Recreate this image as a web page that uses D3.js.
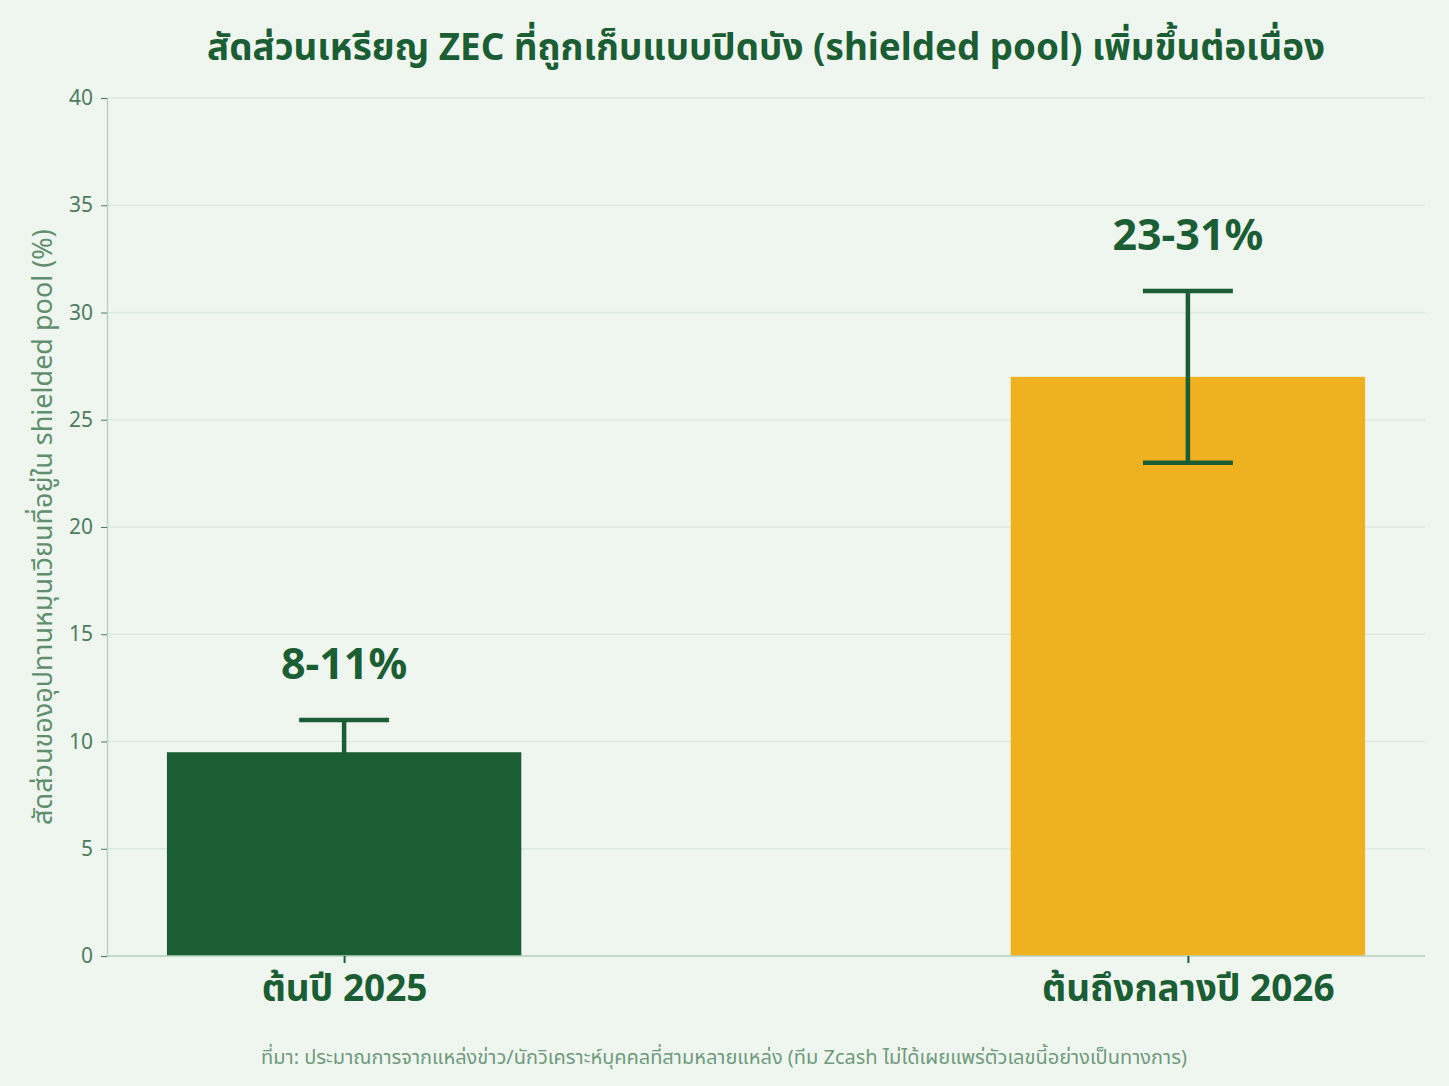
<!DOCTYPE html>
<html>
<head>
<meta charset="utf-8">
<script src="https://cdn.jsdelivr.net/npm/d3@7"></script>
<style>
  body { margin: 0; background: #eff6f0; }
  svg { display: block; font-family: "Noto Sans", "Noto Sans Thai", "Open Sans", sans-serif; }
</style>
</head>
<body>
<svg id="chart" width="1449" height="1086"></svg>
<script>
// data
var categories = ['ต้นปี 2025', 'ต้นถึงกลางปี 2026'];
var midValues = [9.5, 27];
var lowValues = [8, 23];
var highValues = [11, 31];
var rangeLabels = ['8-11%', '23-31%'];
var barColors = ['#1b5e34', '#f0b120'];
var yTicks = [0, 5, 10, 15, 20, 25, 30, 35, 40];

var titleText = 'สัดส่วนเหรียญ ZEC ที่ถูกเก็บแบบปิดบัง (shielded pool) เพิ่มขึ้นต่อเนื่อง';
var yLabelText = 'สัดส่วนของอุปทานหมุนเวียนที่อยู่ใน shielded pool (%)';
var sourceText = 'ที่มา: ประมาณการจากแหล่งข่าว/นักวิเคราะห์บุคคลที่สามหลายแหล่ง (ทีม Zcash ไม่ได้เผยแพร่ตัวเลขนี้อย่างเป็นทางการ)';

var W = 1449, H = 1086;
var margin = { top: 98, right: 24, bottom: 130, left: 107 };
var dark = '#1b5e34';

var svg = d3.select('#chart');
svg.append('rect').attr('width', W).attr('height', H).attr('fill', '#eff6f0');

var x = d3.scalePoint()
  .domain(categories)
  .range([margin.left, W - margin.right])
  .padding(0.281);
var barW = x.step() * 0.42;

var y = d3.scaleLinear()
  .domain([0, 40])
  .range([H - margin.bottom, margin.top]);

// grid
svg.append('g').selectAll('line')
  .data(yTicks)
  .enter().append('line')
  .attr('x1', margin.left).attr('x2', W - margin.right)
  .attr('y1', function (d) { return y(d); })
  .attr('y2', function (d) { return y(d); })
  .attr('stroke', '#dbe9df').attr('stroke-width', 1.5);

// bars
svg.append('g').selectAll('rect')
  .data(categories)
  .enter().append('rect')
  .attr('x', function (d) { return x(d) - barW / 2; })
  .attr('width', barW)
  .attr('y', function (d, i) { return y(midValues[i]); })
  .attr('height', function (d, i) { return y(0) - y(midValues[i]); })
  .attr('fill', function (d, i) { return barColors[i]; });

// error bars
var capW = 45;
var err = svg.append('g').attr('stroke', dark).attr('stroke-width', 4.5);
categories.forEach(function (c, i) {
  err.append('line')
    .attr('x1', x(c)).attr('x2', x(c))
    .attr('y1', y(lowValues[i])).attr('y2', y(highValues[i]));
  [lowValues[i], highValues[i]].forEach(function (v) {
    err.append('line')
      .attr('x1', x(c) - capW).attr('x2', x(c) + capW)
      .attr('y1', y(v)).attr('y2', y(v));
  });
});

// range labels
svg.append('g').selectAll('text')
  .data(categories)
  .enter().append('text')
  .attr('x', function (d) { return x(d); })
  .attr('y', function (d, i) { return y(highValues[i]) - 41; })
  .attr('text-anchor', 'middle')
  .attr('font-size', 43).attr('font-weight', 'bold')
  .attr('fill', dark)
  .text(function (d, i) { return rangeLabels[i]; });

// y axis
var yAxis = svg.append('g')
  .attr('transform', 'translate(' + margin.left + ',0)')
  .call(d3.axisLeft(y).tickValues(yTicks).tickSize(6).tickPadding(8));
yAxis.select('.domain').attr('stroke', '#b9d3c2').attr('stroke-width', 1.5);
yAxis.selectAll('.tick line').attr('stroke', '#4e7d5e');
yAxis.selectAll('.tick text')
  .attr('fill', '#4e7d5e').attr('font-size', 21)
  .attr('font-family', '"Noto Sans", sans-serif');

// x axis
var xAxis = svg.append('g')
  .attr('transform', 'translate(0,' + y(0) + ')')
  .call(d3.axisBottom(x).tickSize(7).tickPadding(12).tickSizeOuter(0));
xAxis.select('.domain').attr('stroke', '#b9d3c2').attr('stroke-width', 1.5)
  .attr('d', 'M' + margin.left + ',0H' + (W - margin.right));
xAxis.selectAll('.tick line').attr('stroke', dark).attr('stroke-width', 2);
xAxis.selectAll('.tick text')
  .attr('fill', dark).attr('font-size', 37).attr('font-weight', 'bold')
  .attr('font-family', '"Noto Sans", "Noto Sans Thai", sans-serif');

// y label
svg.append('text')
  .attr('transform', 'translate(52,' + ((margin.top + y(0)) / 2) + ') rotate(-90)')
  .attr('text-anchor', 'middle')
  .attr('font-size', 27)
  .attr('fill', '#5f8f6e')
  .text(yLabelText);

// title
svg.append('text')
  .attr('x', (margin.left + W - margin.right) / 2)
  .attr('y', 60)
  .attr('text-anchor', 'middle')
  .attr('font-size', 36.8).attr('font-weight', 'bold')
  .attr('fill', dark)
  .text(titleText);

// source
svg.append('text')
  .attr('x', (margin.left + W - margin.right) / 2 - 42)
  .attr('y', 1064)
  .attr('text-anchor', 'middle')
  .attr('font-size', 20)
  .attr('fill', '#6f9a7c')
  .text(sourceText);
</script>
</body>
</html>
